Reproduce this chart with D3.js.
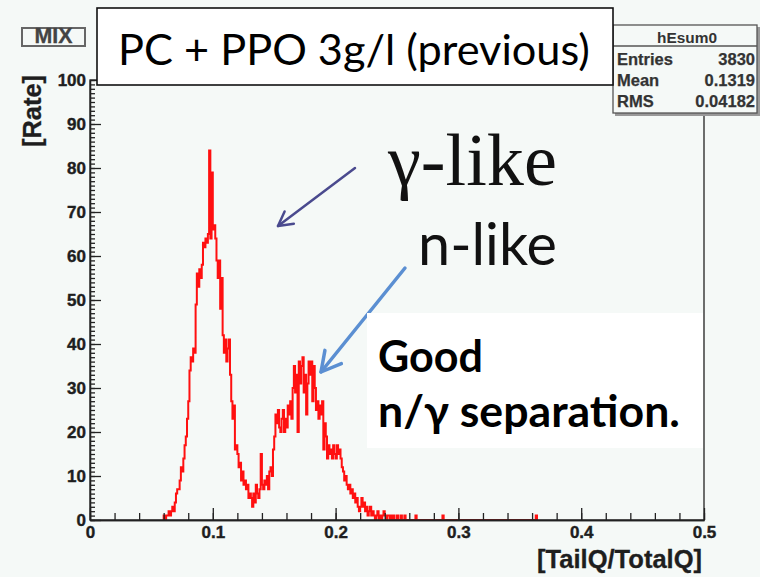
<!DOCTYPE html>
<html>
<head>
<meta charset="utf-8">
<script src="https://cdn.jsdelivr.net/npm/d3@7"></script>
<style>
  body { margin: 0; background: #f5f9f7; }
  svg { display: block; }
</style>
</head>
<body>
<div id="chart"></div>
<script>
// histogram: 0.001 wide bins, first bin at 0.060
const binWidth = 0.001;
const binStart = 0.060;
const counts = [
  1, 0, 1, 1, 2, 1, 2, 3, 2, 4,          // 0.060
  6, 7, 7, 9, 12, 11, 14, 17, 19, 23,    // 0.070
  27, 34, 37, 36, 39, 38, 49, 56, 53, 57, // 0.080
  55, 58, 63, 62, 64, 63, 65, 84, 64, 79, // 0.090
  66, 67, 64, 59, 55, 59, 48, 55, 42, 38, // 0.100
  41, 36, 39, 41, 33, 27, 23, 26, 16, 17, // 0.110
  15, 12, 13, 9, 11, 8, 9, 7, 8, 5,      // 0.120
  6, 5, 3, 6, 4, 8, 6, 5, 7, 15,         // 0.130
  8, 7, 9, 8, 10, 7, 11, 12, 10, 16,     // 0.140
  19, 24, 22, 25, 21, 20, 23, 25, 20, 23, // 0.150
  21, 26, 24, 27, 23, 30, 35, 29, 33, 20, // 0.160
  36, 31, 35, 37, 29, 33, 24, 31, 36, 33, // 0.170
  36, 27, 35, 30, 25, 27, 23, 26, 24, 27, // 0.180
  16, 22, 19, 14, 17, 15, 16, 14, 17, 15, // 0.190
  14, 17, 15, 16, 14, 12, 11, 9, 10, 8,  // 0.200
  7, 8, 6, 7, 5, 6, 4, 5, 3, 2,          // 0.210
  3, 5, 3, 4, 2, 3, 1, 2, 3, 1,          // 0.220
  2, 1, 0, 1, 2, 0, 1, 0, 1, 2,          // 0.230
  1, 0, 1, 1, 0, 1                       // 0.240
];
// isolated entries further out in the tail
const tailX = [0.247, 0.250, 0.253, 0.256, 0.265, 0.287, 0.363];
const tailCount = [1, 1, 1, 1, 1, 1, 1];

const xTicks = [0, 0.1, 0.2, 0.3, 0.4, 0.5];
const yTicks = [0, 10, 20, 30, 40, 50, 60, 70, 80, 90, 100];

const statsName = "hEsum0";
const statsLabels = ["Entries", "Mean", "RMS"];
const statsValues = ["3830", "0.1319", "0.04182"];

const W = 760, H = 577;
const svg = d3.select("#chart").append("svg")
  .attr("width", W).attr("height", H);

svg.append("rect").attr("width", W).attr("height", H).attr("fill", "#f5f9f7");

const x = d3.scaleLinear().domain([0, 0.5]).range([90, 704]);
const y = d3.scaleLinear().domain([0, 100]).range([520, 80]);

// full bin list
const bins = counts.map((c, i) => [binStart + i * binWidth, c]);
let lastX = bins[bins.length - 1][0];
tailX.forEach((t, i) => {
  let b = lastX + binWidth;
  while (b < t - binWidth / 2) { bins.push([b, 0]); b += binWidth; }
  bins.push([t, tailCount[i]]);
  lastX = t;
});

const pts = [[binStart, 0]].concat(bins, [[lastX + binWidth, 0]]);
const line = d3.line()
  .x(d => x(d[0]))
  .y(d => y(d[1]))
  .curve(d3.curveStepAfter);

svg.append("path")
  .attr("d", line(pts))
  .attr("fill", "none")
  .attr("stroke", "#ff1010")
  .attr("stroke-width", 2);

// axes, ROOT style ticks inside the frame
const font = "'Liberation Sans', Arial, sans-serif";

const gy = svg.append("g").attr("transform", "translate(90,0)");
gy.call(d3.axisLeft(y).tickValues(d3.range(0, 101, 1)).tickSize(-5).tickSizeOuter(0).tickFormat(""));
gy.append("g").call(d3.axisLeft(y).tickValues(yTicks).tickSize(-11).tickSizeOuter(0).tickPadding(4));

const gx = svg.append("g").attr("transform", "translate(0,520)");
gx.call(d3.axisBottom(x).tickValues(d3.range(0, 0.501, 0.02)).tickSize(-7).tickSizeOuter(0).tickFormat(""));
gx.append("g").call(d3.axisBottom(x).tickValues(xTicks).tickSize(-12).tickSizeOuter(0).tickPadding(6)
  .tickFormat(d => d === 0 ? "0" : d3.format(".1f")(d)));

svg.selectAll(".tick line").attr("stroke", "#222").attr("stroke-width", 1.3);
svg.selectAll(".domain").attr("stroke", "#222").attr("stroke-width", 1.3);
svg.selectAll(".tick text")
  .attr("font-family", font).attr("font-weight", "bold")
  .attr("font-size", 17).attr("fill", "#1e1e1e")
  .attr("stroke", "#1e1e1e").attr("stroke-width", 0.4);

svg.append("rect")
  .attr("x", 90).attr("y", 80).attr("width", 614).attr("height", 440)
  .attr("fill", "none").attr("stroke", "#222").attr("stroke-width", 1.3);

function fitText(t, w) {
  const len = t.node().getComputedTextLength();
  t.attr("font-size", parseFloat(t.attr("font-size")) * w / len);
  return t;
}

// axis titles
fitText(svg.append("text")
  .attr("transform", "translate(41,75) rotate(-90)")
  .attr("text-anchor", "end")
  .attr("font-family", font).attr("font-weight", "bold").attr("font-size", 24)
  .attr("fill", "#1e1e1e").attr("stroke", "#1e1e1e").attr("stroke-width", 0.3)
  .text("[Rate]"), 72);

fitText(svg.append("text")
  .attr("x", 702).attr("y", 568)
  .attr("text-anchor", "end")
  .attr("font-family", font).attr("font-weight", "bold").attr("font-size", 23)
  .attr("fill", "#1e1e1e").attr("stroke", "#1e1e1e").attr("stroke-width", 0.3)
  .text("[TailQ/TotalQ]"), 165);

// MIX label
svg.append("rect")
  .attr("x", 22).attr("y", 28).attr("width", 63).attr("height", 18)
  .attr("fill", "#f5f9f7").attr("stroke", "#666").attr("stroke-width", 2);
fitText(svg.append("text")
  .attr("x", 53.5).attr("y", 42.5).attr("text-anchor", "middle")
  .attr("font-family", font).attr("font-weight", "bold").attr("font-size", 15)
  .attr("fill", "#444").attr("stroke", "#444").attr("stroke-width", 0.3)
  .text("MIX"), 38);

// stats box
const sb = svg.append("g");
sb.append("rect")
  .attr("x", 615).attr("y", 27).attr("width", 145).attr("height", 89)
  .attr("fill", "#999");
sb.append("rect")
  .attr("x", 613).attr("y", 25).attr("width", 144).attr("height", 88)
  .attr("fill", "#f5f9f7").attr("stroke", "#555").attr("stroke-width", 1.3);
sb.append("line")
  .attr("x1", 613).attr("x2", 757).attr("y1", 46).attr("y2", 46)
  .attr("stroke", "#555").attr("stroke-width", 1.3);
fitText(sb.append("text")
  .attr("x", 687).attr("y", 43).attr("text-anchor", "middle")
  .attr("font-family", font).attr("font-weight", "bold").attr("font-size", 16)
  .attr("fill", "#333").text(statsName), 60);
statsLabels.forEach((s, i) => {
  sb.append("text")
    .attr("x", 617).attr("y", 65 + i * 21)
    .attr("font-family", font).attr("font-weight", "bold").attr("font-size", 16.5)
    .attr("fill", "#333").attr("stroke", "#333").attr("stroke-width", 0.25)
    .text(s);
  sb.append("text")
    .attr("x", 755).attr("y", 65 + i * 21).attr("text-anchor", "end")
    .attr("font-family", font).attr("font-weight", "bold").attr("font-size", 16.5)
    .attr("fill", "#333").attr("stroke", "#333").attr("stroke-width", 0.25)
    .text(statsValues[i]);
});

// title box
svg.append("rect")
  .attr("x", 97).attr("y", 8).attr("width", 516).attr("height", 77)
  .attr("fill", "#fff").attr("stroke", "#111").attr("stroke-width", 1.6);
fitText(svg.append("text")
  .attr("x", 118).attr("y", 65)
  .attr("font-family", "Lato, 'Open Sans', sans-serif").attr("font-size", 40)
  .attr("fill", "#000").text("PC + PPO 3g/l (previous)"), 472);

// annotations
fitText(svg.append("text")
  .attr("x", 388).attr("y", 185)
  .attr("font-family", "'Liberation Serif', 'DejaVu Serif', serif").attr("font-size", 50)
  .attr("fill", "#111").text("γ-like"), 169);

fitText(svg.append("text")
  .attr("x", 418).attr("y", 265)
  .attr("font-family", "Lato, 'Open Sans', sans-serif").attr("font-size", 44)
  .attr("fill", "#111").text("n-like"), 139);

function arrow(x1, y1, x2, y2, color, w, head) {
  const a = Math.atan2(y2 - y1, x2 - x1);
  const g = svg.append("g").attr("stroke", color).attr("stroke-width", w)
    .attr("fill", "none").attr("stroke-linecap", "round").attr("stroke-linejoin", "round");
  g.append("line").attr("x1", x1).attr("y1", y1).attr("x2", x2).attr("y2", y2);
  const p = d3.path();
  p.moveTo(x2 - head * Math.cos(a - 0.5), y2 - head * Math.sin(a - 0.5));
  p.lineTo(x2, y2);
  p.lineTo(x2 - head * Math.cos(a + 0.5), y2 - head * Math.sin(a + 0.5));
  g.append("path").attr("d", p.toString());
}
arrow(355, 168, 278, 226, "#4a4a8e", 2.5, 16);
arrow(405, 268, 321, 372, "#5b8fd2", 3.5, 22);

svg.append("rect")
  .attr("x", 367).attr("y", 313).attr("width", 336).attr("height", 135)
  .attr("fill", "#fff");
fitText(svg.append("text")
  .attr("x", 378).attr("y", 372)
  .attr("font-family", "Lato, 'Open Sans', sans-serif").attr("font-weight", "bold").attr("font-size", 38)
  .attr("fill", "#000").text("Good"), 105);
fitText(svg.append("text")
  .attr("x", 378).attr("y", 427)
  .attr("font-family", "Lato, 'Open Sans', sans-serif").attr("font-weight", "bold").attr("font-size", 38)
  .attr("fill", "#000").text("n/γ separation."), 302);
</script>
</body>
</html>
